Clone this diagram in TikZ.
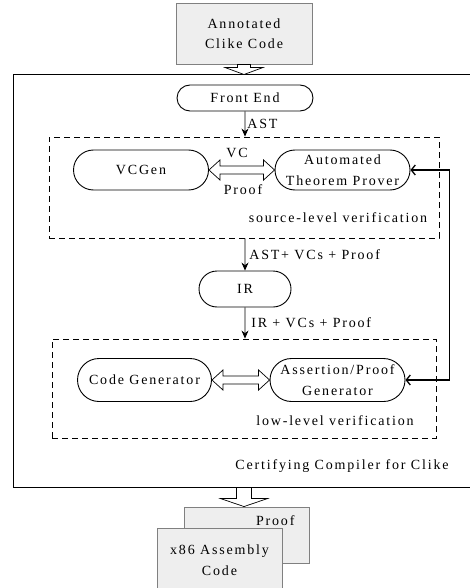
\documentclass[tikz,border=0pt]{standalone}
\usepackage{fontspec}
\setmainfont[LetterSpace=13]{Liberation Serif}
\usetikzlibrary{calc,positioning,shapes.misc,arrows.meta}
\definecolor{docfill}{HTML}{EEEEEE}
\definecolor{docline}{HTML}{808080}
\tikzset{
  stage/.style={draw,rounded rectangle,line width=0.9pt,minimum height=40pt,minimum width=139pt,align=center,inner sep=2pt},
  docbox/.style={draw=docline,fill=docfill,line width=0.9pt,minimum width=125pt,align=center},
  vbox/.style={draw,dash pattern=on 6pt off 4pt,line width=0.9pt},
  hollow/.style={draw=black,fill=white,line width=0.7pt,line join=miter},
  flow/.style={-{Stealth[length=8pt,width=7pt]},line width=0.7pt},
  back/.style={{Straight Barb[length=4pt,width=10pt]}-{Straight Barb[length=4pt,width=10pt]},line width=1.3pt}
}

\begin{document}
\begin{tikzpicture}[x=1pt,y=-1pt,font=\fontsize{14}{20.5}\selectfont]
\useasboundingbox (0,0) rectangle (470,588);
% input and the compiler frame
\node[docbox,minimum width=136pt,minimum height=61pt] (ann) at (244,33.5) {Annotated\\Clike Code};
\node[draw,line width=1pt,minimum width=462pt,minimum height=412pt,inner sep=0pt] (frame) at (244,281) {};
\node (cctxt) at (342,466) {Certifying Compiler for Clike};
% front end and source-level part
\node[stage,minimum width=140pt,minimum height=26pt] (fe) at (245,98) {Front End};
\node[vbox,minimum width=390pt,minimum height=101pt] (src) at (244,187.5) {};
\node[stage] (vcgen) at (141,170) {VCGen};
\node[stage] (atp) at (342.5,170) {Automated\\Theorem Prover};
\node (vc) at (237,153) {VC};
\node (pf) at (243,190) {Proof};
\node (srctxt) at (338,218) {source-level verification};
% IR and low-level part
\node[stage,minimum width=96pt,minimum height=36pt] (ir) at (245,289) {IR};
\node[vbox,minimum width=384pt,minimum height=99pt] (low) at (244,388.5) {};
\node[stage,minimum width=138pt,minimum height=43pt] (cg) at (144.5,380) {Code Generator};
\node[stage,minimum height=43pt] (apg) at (337.5,380) {Assertion/Proof\\Generator};
\node (lowtxt) at (335,421) {low-level verification};
% output
\node[docbox,minimum height=56pt] (prf) at (246.5,535) {};
\node[anchor=east] (prftxt) at (298,521) {Proof};
\node[docbox,minimum height=64pt] (asm) at (219.5,560) {x86 Assembly\\Code};

% flow between the stages
\draw[flow] (fe) -- (fe |- src.north) node[midway,right,inner sep=2pt] (ast) {AST};
\draw[flow] (src.south -| ir) -- (ir) node[midway,right,inner sep=4pt] (astvc) {AST+ VCs + Proof};
\draw[flow] (ir) -- (ir |- low.north) node[midway,right,inner sep=6pt] (irvc) {IR + VCs + Proof};
\draw[back] (apg.east) -- ++(44,0) |- (atp.east);

% hollow arrows
\foreach \a/\b in {vcgen/atp,cg/apg}
\draw[hollow] let \p1=(\a.east), \p2=(\b.west) in
  (\x1,\y1) -- (\x1+11pt,\y1+10pt) -- (\x1+11pt,\y1+4pt) -- (\x2-11pt,\y1+4pt) -- (\x2-11pt,\y1+10pt)
  -- (\x2,\y1) -- (\x2-11pt,\y1-10pt) -- (\x2-11pt,\y1-4pt) -- (\x1+11pt,\y1-4pt) -- (\x1+11pt,\y1-10pt) -- cycle;
\draw[hollow] let \p1=(ann.south), \p2=(ann.south |- frame.north) in
  (\x1-6.5pt,\y1) -- (\x1+6.5pt,\y1) -- (\x1+6.5pt,\y2+7pt) -- (\x1+19pt,\y2+7pt)
  -- (\x2,\y2) -- (\x1-19pt,\y2+7pt) -- (\x1-6.5pt,\y2+7pt) -- cycle;
\draw[hollow] let \p1=(frame.south), \p2=(frame.south |- prf.north) in
  (\x1-7.5pt,\y1) -- (\x1+7.5pt,\y1) -- (\x1+7.5pt,\y2+8pt) -- (\x1+23.5pt,\y2+8pt)
  -- (\x2,\y2) -- (\x1-23.5pt,\y2+8pt) -- (\x1-7.5pt,\y2+8pt) -- cycle;
\end{tikzpicture}
\end{document}
